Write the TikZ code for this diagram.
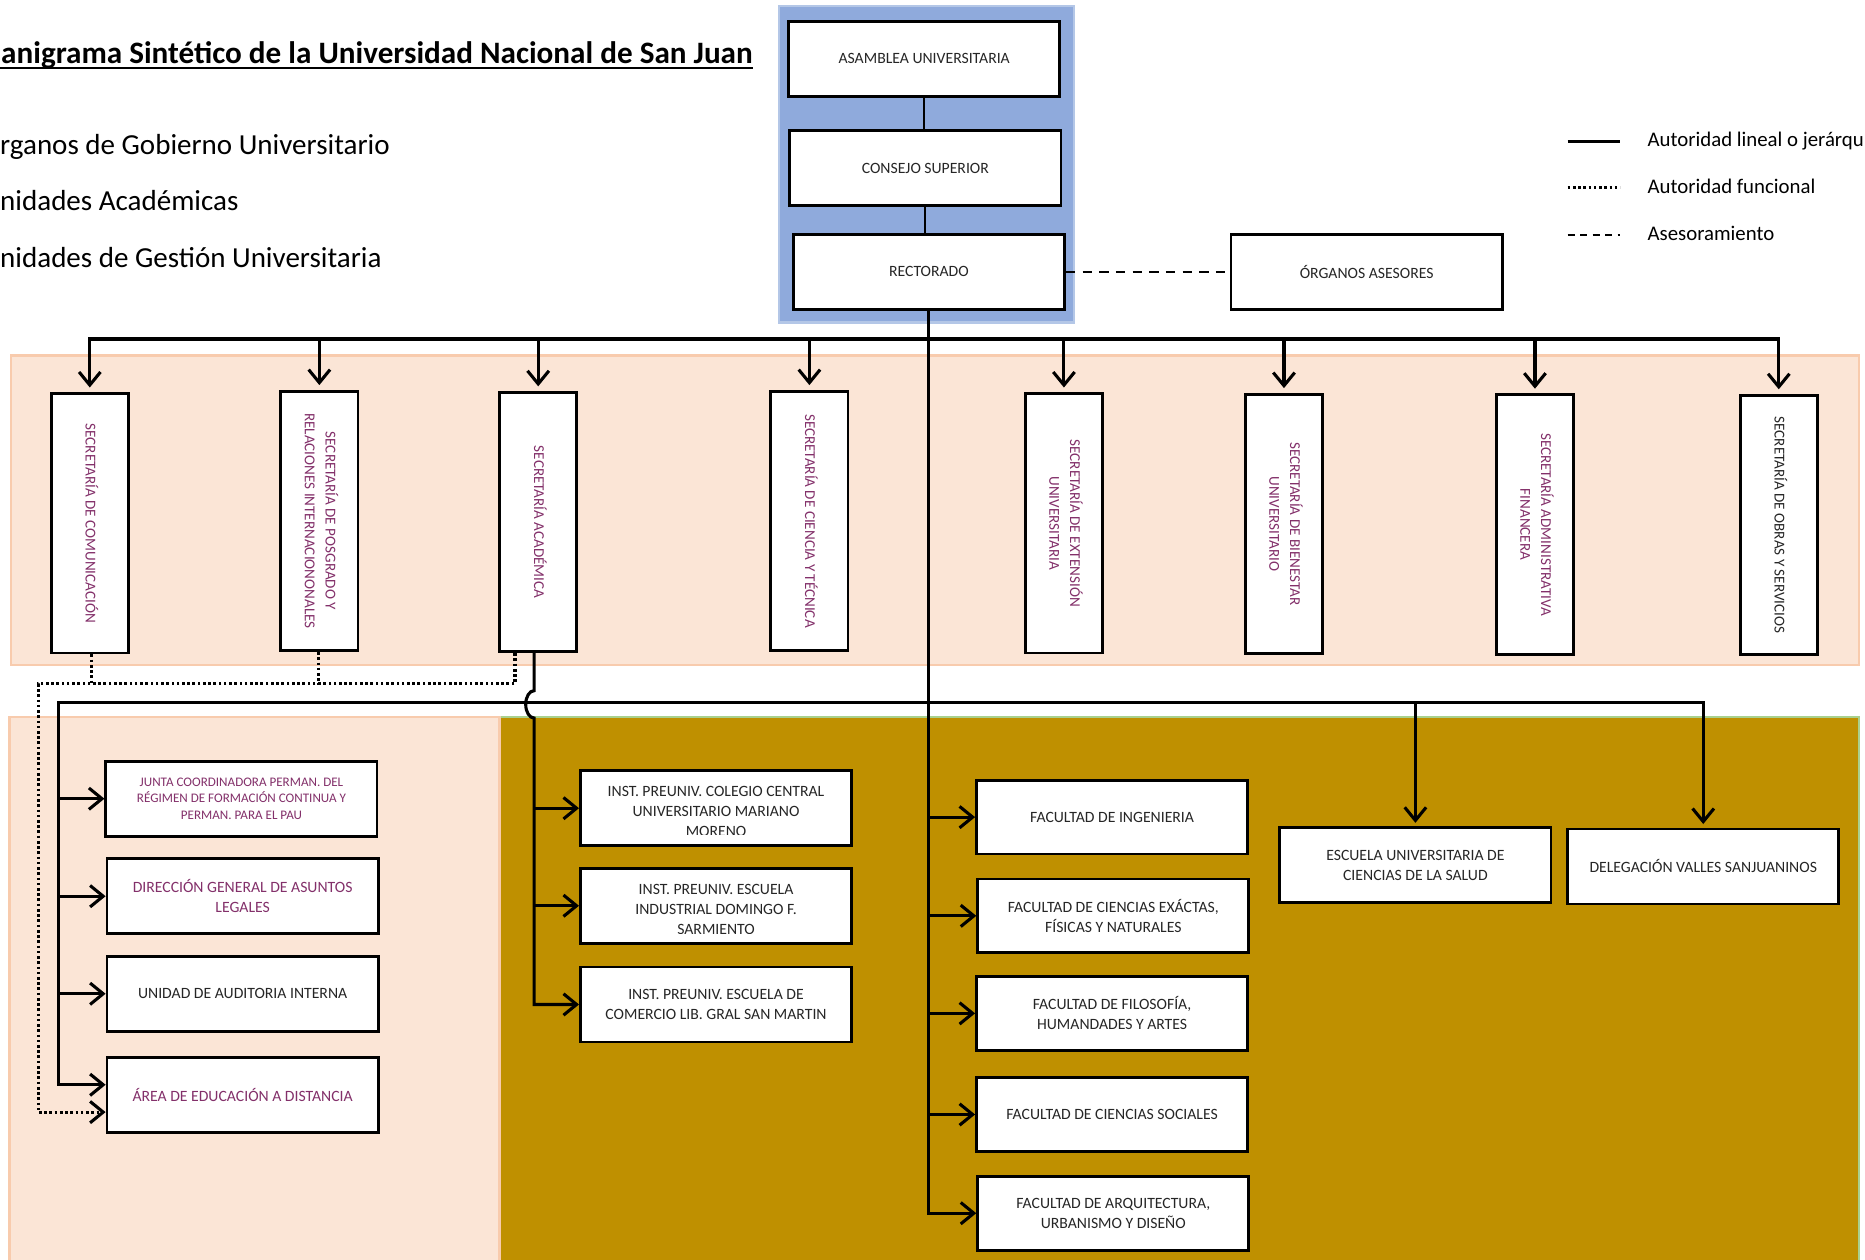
\documentclass[tikz,border=0pt]{standalone}
\usepackage{fontspec}
\setmainfont{Carlito}
\usetikzlibrary{arrows.meta,calc}
\definecolor{peach}{HTML}{FBE5D6}
\definecolor{peachedge}{HTML}{F8CBAD}
\definecolor{goldband}{HTML}{BF9000}
\definecolor{greenedge}{HTML}{A9D18E}
\definecolor{govblue}{HTML}{8FAADC}
\definecolor{govedge}{HTML}{B4C7E7}
\definecolor{plum}{HTML}{83306A}
\definecolor{boxtext}{HTML}{262626}
\newcommand\fsz[2]{\fontsize{#1}{#2}\selectfont}
\newcommand\vtext[1]{\rotatebox{-90}{\begin{tabular}{@{}c@{}}#1\end{tabular}}}
\begin{document}
\begin{tikzpicture}[x=1pt,y=-1pt,
  >={Straight Barb[length=11pt,width=18pt]},
  box/.style={draw=black, line width=2.4pt, fill=white, inner sep=0pt, align=center,
    minimum width=228pt, minimum height=63pt, font=\fsz{13.2}{16.8}, text=boxtext},
  fbox/.style={box, minimum height=62pt},
  vbox/.style={box, minimum width=65pt, minimum height=218pt, text=plum, font=\fsz{12.7}{17.5}},
  pbox/.style={box, text=plum},
  inner/.style={draw=none, fill=none, inner sep=0pt, minimum width=0pt, minimum height=0pt,
    align=center, font=\fsz{13.2}{16.8}, text=boxtext},
  conn/.style={draw=black, line width=2.6pt},
  thinconn/.style={draw=black, line width=1.5pt},
  dotline/.style={conn, dash pattern=on 2.2pt off 2.2pt},
  dashline/.style={draw=black, line width=1.8pt, dash pattern=on 8pt off 6pt},
  legtext/.style={anchor=base west, inner sep=0pt, font=\fsz{17.5}{20}, text=black},
  lefttext/.style={anchor=base west, inner sep=0pt, font=\fsz{24.4}{28}, text=black}]
\useasboundingbox (0,0) rectangle (1568,1059);

% ---------- backgrounds ----------
\filldraw[fill=govblue, draw=govedge, line width=2pt] (655,5) rectangle (903,271);
\filldraw[fill=peach, draw=peachedge, line width=2pt] (9,299) rectangle (1563,559);
\filldraw[fill=peach, draw=peachedge, line width=2pt] (8,603) rectangle (420,1075);
\fill[goldband] (421,603) rectangle (1563,1075);
\draw[greenedge, line width=2pt] (421,603) -- (1563,603) -- (1563,1075);

% ---------- title and left legend ----------
\node[anchor=base east, inner sep=0pt, font=\bfseries\fsz{26.2}{30}] (title) at (633,53)
  {anigrama Sintético de la Universidad Nacional de San Juan};
\coordinate (ul0) at (0,57.5);
\draw[line width=1.6pt] (ul0) -- (ul0 -| title.east);
\node[lefttext] (leg1) at (0,129.5) {rganos de Gobierno Universitario};
\node[lefttext] (leg2) at (0,177) {nidades Académicas};
\node[lefttext] (leg3) at (0,224.5) {nidades de Gestión Universitaria};

% ---------- right legend ----------
\coordinate (la1) at (1318,119); \coordinate (lb1) at (1362,119);
\coordinate (la2) at (1318,158); \coordinate (lb2) at (1362,158);
\coordinate (la3) at (1318,197.5); \coordinate (lb3) at (1362,197.5);
\draw[conn] (la1) -- (lb1);
\draw[dotline] (la2) -- (lb2);
\draw[draw=black, line width=1.6pt, dash pattern=on 6pt off 4.5pt] (la3) -- (lb3);
\node[legtext] (lt1) at (1385,123.5) {Autoridad lineal o jerárqu};
\node[legtext] (lt2) at (1385,163) {Autoridad funcional};
\node[legtext] (lt3) at (1385,202) {Asesoramiento};

% ---------- governing bodies ----------
\node[box] (asamblea) at (777,49.5) {ASAMBLEA UNIVERSITARIA};
\node[box] (consejo) at (778,141.5) {CONSEJO SUPERIOR};
\node[box] (rectorado) at (781,228.5) {RECTORADO};
\node[box] (organos) at (1149,228.5) {ÓRGANOS ASESORES};
\draw[thinconn] (asamblea.south) -- (asamblea.south |- consejo.north);
\draw[thinconn] (consejo.south) -- (consejo.south |- rectorado.north);
\draw[dashline] (rectorado.east) -- (organos.west);

% ---------- secretarías ----------
\node[vbox] (s1) at (75.5,440) {\vtext{SECRETARÍA DE COMUNICACIÓN}};
\node[vbox] (s2) at (268.5,438) {\vtext{SECRETARÍA DE POSGRADO Y\\RELACIONES INTERNACIONONALES}};
\node[vbox] (s3) at (452.5,439) {\vtext{SECRETARÍA ACADÉMICA}};
\node[vbox] (s4) at (680.5,438) {\vtext{SECRETARÍA DE CIENCIA Y TÉCNICA}};
\node[vbox] (s5) at (894.5,440) {\vtext{SECRETARÍA DE EXTENSIÓN\\UNIVERSITARIA}};
\node[vbox] (s6) at (1079.5,440.5) {\vtext{SECRETARÍA DE BIENESTAR\\UNIVERSITARIO}};
\node[vbox] (s7) at (1290.5,441) {\vtext{SECRETARÍA ADMINISTRATIVA\\FINANCERA}};
\node[vbox, text=boxtext] (s8) at (1495.5,441.5) {\vtext{SECRETARÍA DE OBRAS Y SERVICIOS}};

% ---------- gestión ----------
\node[pbox, font=\fsz{11}{14}] (g1) at (203,671.5)
  {JUNTA COORDINADORA PERMAN. DEL\\RÉGIMEN DE FORMACIÓN CONTINUA Y\\PERMAN. PARA EL PAU};
\node[pbox] (g2) at (204,753.5) {DIRECCIÓN GENERAL DE ASUNTOS\\LEGALES};
\node[box] (g3) at (204,835.5) {UNIDAD DE AUDITORIA INTERNA};
\node[pbox] (g4) at (204,920.5) {ÁREA DE EDUCACIÓN A DISTANCIA};

% ---------- institutos preuniversitarios ----------
\node[box, path picture={
    \clip ([yshift=9pt]path picture bounding box.south west) rectangle (path picture bounding box.north east);
    \node[inner] (i1t) at ([yshift=-3pt]path picture bounding box.center)
      {INST. PREUNIV. COLEGIO CENTRAL\\UNIVERSITARIO MARIANO\\MORENO};}]
  (i1) at (602,679.5) {};
\node[box, path picture={
    \clip ([yshift=8.5pt]path picture bounding box.south west) rectangle (path picture bounding box.north east);
    \node[inner] (i2t) at ([yshift=-3pt]path picture bounding box.center)
      {INST. PREUNIV. ESCUELA\\INDUSTRIAL DOMINGO F.\\SARMIENTO};}]
  (i2) at (602,761.5) {};
\node[box] (i3) at (602,844.5) {INST. PREUNIV. ESCUELA DE\\COMERCIO LIB. GRAL SAN MARTIN};

% ---------- facultades ----------
\node[fbox] (f1) at (935,687) {FACULTAD DE INGENIERIA};
\node[fbox] (f2) at (936,770) {FACULTAD DE CIENCIAS EXÁCTAS,\\FÍSICAS Y NATURALES};
\node[fbox] (f3) at (935,852) {FACULTAD DE FILOSOFÍA,\\HUMANDADES Y ARTES};
\node[fbox] (f4) at (935,937) {FACULTAD DE CIENCIAS SOCIALES};
\node[fbox] (f5) at (936,1020) {FACULTAD DE ARQUITECTURA,\\URBANISMO Y DISEÑO};
\node[box] (esc) at (1190,727.5) {ESCUELA UNIVERSITARIA DE\\CIENCIAS DE LA SALUD};
\node[box] (dele) at (1432,728.5) {DELEGACIÓN VALLES SANJUANINOS};

% ---------- connectors: rectorado to secretarías ----------
\coordinate (b1) at (781,285);
\draw[conn,<->,shorten <=4pt,shorten >=4pt] (s1.north) |- (b1) -| (s8.north);
\foreach \s in {s2,s3,s4,s5,s6,s7}{
  \draw[conn,->,shorten >=4pt] (\s.north |- b1) -- (\s.north);
}

% ---------- rectorado trunk to facultades ----------
\draw[conn,->] (rectorado.south) |- (f5.west);
\foreach \f in {f1,f2,f3,f4}{
  \draw[conn,->] (rectorado.south |- \f.west) -- (\f.west);
}

% ---------- second bus: gestión, escuela, delegación ----------
\coordinate (lt) at (49,591);
\draw[conn,<->,shorten >=3pt] ([yshift=8.5pt]g4.west) -| (lt) -| (dele.north);
\foreach \g in {g1,g2,g3}{
  \draw[conn,->] (lt |- \g.west) -- (\g.west);
}
\draw[conn,->,shorten >=3pt] (esc.north |- lt) -- (esc.north);

% ---------- secretaría académica to institutos (with hop) ----------
\coordinate (acad) at ([xshift=-3.5pt]s3.south);
\draw[conn,->] (acad) -- ++(0,31.5)
  arc[start angle=90, end angle=270, x radius=7pt, y radius=11.5pt]
  -- (acad |- i3.west) -- (i3.west);
\foreach \i in {i1,i2}{
  \draw[conn,->] (acad |- \i.west) -- (\i.west);
}

% ---------- functional authority (dotted) ----------
\coordinate (dl) at (32,575);
\draw[dotline,->] ([xshift=-19.5pt]s3.south) |- (dl) |- ([yshift=-14.5pt]g4.west);
\draw[dotline] ([xshift=1.5pt]s1.south) -- ++(0,26);
\draw[dotline] ([xshift=-0.5pt]s2.south) -- ++(0,28);
\end{tikzpicture}
\end{document}
